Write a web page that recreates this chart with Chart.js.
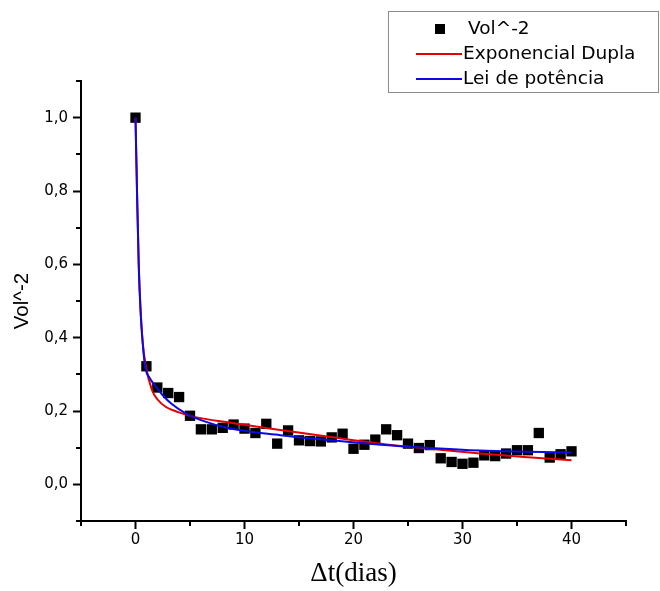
<!DOCTYPE html>
<html>
<head>
<meta charset="utf-8">
<script src="https://cdn.jsdelivr.net/npm/chart.js@4.4.1/dist/chart.umd.min.js"></script>
<style>
  html, body { margin: 0; padding: 0; background: #fff; }
  #wrap { width: 660px; height: 591px; }
</style>
</head>
<body>
<div id="wrap"><canvas id="chart" width="660" height="591"></canvas></div>
<script>
// ── dados ──────────────────────────────────────────────────────────────
const dias = [
  0, 1, 2, 3, 4, 5, 6, 7, 8, 9, 10, 11, 12, 13, 14, 15, 16, 17, 18, 19, 20,
  21, 22, 23, 24, 25, 26, 27, 28, 29, 30, 31, 32, 33, 34, 35, 36, 37, 38, 39, 40
];
const volMinus2 = [
  1.0, 0.322, 0.264, 0.249, 0.238, 0.187, 0.150, 0.150, 0.154, 0.163, 0.152,
  0.140, 0.165, 0.111, 0.147, 0.120, 0.118, 0.117, 0.128, 0.138, 0.097,
  0.108, 0.122, 0.150, 0.134, 0.111, 0.099, 0.107, 0.071, 0.061, 0.056,
  0.059, 0.079, 0.077, 0.084, 0.093, 0.093, 0.140, 0.073, 0.082, 0.090
];

// curva "Exponencial Dupla"
const expDuplaX = [0, 0.15, 0.3, 0.46, 0.65, 0.95, 1.5, 2.0, 2.8, 3.9, 5.4, 8.7, 13.3, 17.9, 22.5, 27, 31.6, 36, 40];
const expDuplaY = [1.0, 0.79, 0.60, 0.48, 0.39, 0.322, 0.258, 0.232, 0.211, 0.197, 0.184, 0.168, 0.148, 0.129, 0.111, 0.097, 0.084, 0.074, 0.066];

// curva "Lei de potência"
const potenciaX = [0, 0.15, 0.3, 0.46, 0.65, 0.88, 1.3, 1.9, 2.5, 3.3, 4.65, 6, 8.7, 13.3, 17.9, 22.5, 27, 31.6, 36, 40];
const potenciaY = [1.0, 0.78, 0.59, 0.475, 0.39, 0.322, 0.29, 0.266, 0.243, 0.22, 0.193, 0.175, 0.152, 0.134, 0.120, 0.108, 0.099, 0.092, 0.089, 0.087];

const xTicks = [-5, 0, 5, 10, 15, 20, 25, 30, 35, 40, 45];
const yTicks = [-0.1, 0, 0.1, 0.2, 0.3, 0.4, 0.5, 0.6, 0.7, 0.8, 0.9, 1.0, 1.1];

const labels = ['Vol^-2', 'Exponencial Dupla', 'Lei de potência'];

const RED = 'rgb(228,0,0)';
const BLUE = 'rgb(10,10,228)';
const SANS = "'DejaVu Sans', sans-serif";

const toXY = (xs, ys) => xs.map((x, i) => ({ x, y: ys[i] }));

const isMajorX = v => Math.round(v) % 10 === 0;
const isMajorY = v => Math.round(v * 10) % 2 === 0;

// ticks menores (metade do tamanho) desenhados à parte
const minorTicks = {
  id: 'minorTicks',
  afterDraw(chart) {
    const { ctx, scales: { x, y }, chartArea } = chart;
    ctx.save();
    ctx.strokeStyle = '#000';
    ctx.lineWidth = 2;
    ctx.beginPath();
    x.ticks.forEach(t => {
      if (isMajorX(t.value)) return;
      const px = Math.round(x.getPixelForValue(t.value));
      ctx.moveTo(px, chartArea.bottom);
      ctx.lineTo(px, chartArea.bottom + 5);
    });
    y.ticks.forEach(t => {
      if (isMajorY(t.value)) return;
      const py = Math.round(y.getPixelForValue(t.value));
      ctx.moveTo(chartArea.left, py);
      ctx.lineTo(chartArea.left - 5, py);
    });
    ctx.stroke();
    ctx.restore();
  }
};

// legenda com moldura no canto superior direito
const boxLegend = {
  id: 'boxLegend',
  afterDraw(chart) {
    const { ctx } = chart;
    const ds = chart.data.datasets;
    ctx.save();
    ctx.fillStyle = '#fff';
    ctx.fillRect(388, 11, 271, 82);
    ctx.strokeStyle = '#8c8c8c';
    ctx.lineWidth = 1;
    ctx.strokeRect(388.5, 11.5, 270, 81);

    ctx.font = '18.5px ' + SANS;
    ctx.textBaseline = 'middle';
    ctx.textAlign = 'left';

    // marcador quadrado
    ctx.fillStyle = '#000';
    ctx.fillRect(435, 24, 10, 10);
    ctx.fillText(ds[0].label, 468, 29);

    [[ds[1], 54], [ds[2], 79]].forEach(([d, yy]) => {
      ctx.strokeStyle = d.borderColor;
      ctx.lineWidth = 2;
      ctx.beginPath();
      ctx.moveTo(416, yy);
      ctx.lineTo(462, yy);
      ctx.stroke();
      ctx.fillStyle = '#000';
      ctx.fillText(d.label, 463, yy);
    });
    ctx.restore();
  }
};

const tickColor = isMajor => c => (c.tick && isMajor(c.tick.value)) ? '#000' : 'rgba(0,0,0,0)';

new Chart(document.getElementById('chart'), {
  type: 'line',
  data: {
    datasets: [
      {
        label: labels[0],
        data: toXY(dias, volMinus2),
        showLine: false,
        pointStyle: 'rect',
        pointRadius: 7.3,
        pointBorderWidth: 0,
        pointBackgroundColor: '#000',
        borderColor: '#000',
        backgroundColor: '#000',
        order: 3
      },
      {
        label: labels[1],
        data: toXY(expDuplaX, expDuplaY),
        borderColor: RED,
        borderWidth: 2,
        pointRadius: 0,
        cubicInterpolationMode: 'monotone',
        fill: false,
        order: 2
      },
      {
        label: labels[2],
        data: toXY(potenciaX, potenciaY),
        borderColor: BLUE,
        borderWidth: 2,
        pointRadius: 0,
        cubicInterpolationMode: 'monotone',
        fill: false,
        order: 1
      }
    ]
  },
  options: {
    responsive: false,
    animation: false,
    layout: { padding: { top: 81, right: 34, left: 0, bottom: 0 } },
    plugins: {
      legend: { display: false },
      tooltip: { enabled: false }
    },
    scales: {
      x: {
        type: 'linear',
        min: -5,
        max: 45,
        afterBuildTicks: s => { s.ticks = xTicks.map(v => ({ value: v })); },
        afterFit: s => { s.height = 70; },
        ticks: {
          autoSkip: false,
          maxRotation: 0,
          padding: 2,
          color: '#000',
          font: { family: SANS, size: 15 },
          callback: v => isMajorX(v) ? String(v) : ''
        },
        grid: {
          drawOnChartArea: false,
          drawTicks: true,
          tickLength: 8,
          tickWidth: 2,
          tickColor: tickColor(isMajorX)
        },
        border: { color: '#000', width: 2 },
        title: {
          display: true,
          text: 'Δt(dias)',
          color: '#000',
          font: { family: "'Liberation Serif', serif", size: 27 },
          padding: { top: 0, bottom: 1 }
        }
      },
      y: {
        type: 'linear',
        min: -0.1,
        max: 1.1,
        afterBuildTicks: s => { s.ticks = yTicks.map(v => ({ value: v })); },
        afterFit: s => { s.width = 81; },
        ticks: {
          autoSkip: false,
          padding: 5,
          color: '#000',
          font: { family: SANS, size: 15 },
          callback: v => isMajorY(v) ? (Math.round(v * 10) / 10).toFixed(1).replace('.', ',') : ''
        },
        grid: {
          drawOnChartArea: false,
          drawTicks: true,
          tickLength: 8,
          tickWidth: 2,
          tickColor: tickColor(isMajorY)
        },
        border: { color: '#000', width: 2 },
        title: {
          display: true,
          text: labels[0],
          color: '#000',
          font: { family: "'Liberation Sans', Arial, sans-serif", size: 20.5 },
          padding: { top: 10, bottom: 0 }
        }
      }
    }
  },
  plugins: [minorTicks, boxLegend]
});
</script>
</body>
</html>
